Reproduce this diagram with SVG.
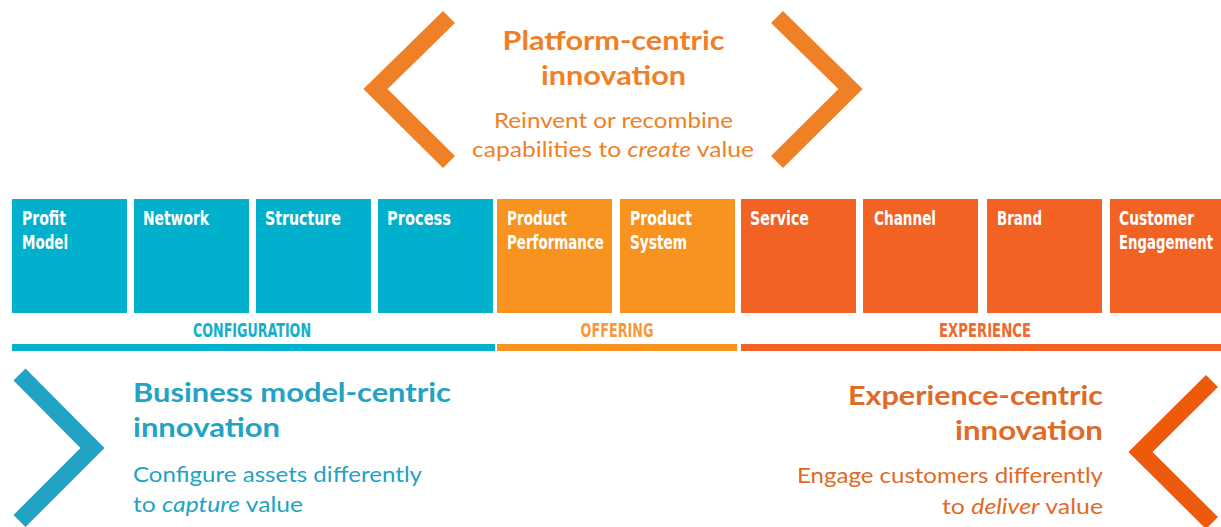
<svg xmlns="http://www.w3.org/2000/svg" width="1221" height="527" viewBox="0 0 1221 527">
<style>
.cfg{fill:#01B0CC}
.off{fill:#F7931E}
.exp{fill:#F26223}
.lbl{font-family:"DejaVu Sans Condensed","DejaVu Sans",sans-serif;font-weight:bold;font-size:19px;fill:#FFFFFF}
.bar{font-family:"DejaVu Sans Condensed","DejaVu Sans",sans-serif;font-weight:bold;font-size:20px}
.chev{fill:none;stroke-width:17;stroke-linecap:butt;stroke-linejoin:miter;stroke-miterlimit:10}
.h{font-family:Lato,"Open Sans",sans-serif;font-weight:bold;font-size:27px}
.s{font-family:Lato,"Open Sans",sans-serif;font-size:20.5px}
</style>

<!-- top chevrons and text -->
<g id="platform">
<polyline class="chev" stroke="#F08026" points="449,17 375.5,89 449,162"/>
<polyline class="chev" stroke="#F08026" points="777,17 850.5,89 777,162"/>
<g fill="#F08026" text-anchor="middle">
<text class="h" x="613.5" y="50" textLength="222" lengthAdjust="spacingAndGlyphs">Platform-centric</text>
<text class="h" x="613.5" y="85" textLength="145" lengthAdjust="spacingAndGlyphs">innovation</text>
<text class="s" x="613.5" y="128" textLength="239" lengthAdjust="spacingAndGlyphs">Reinvent or recombine</text>
<text class="s" x="613" y="157" textLength="282" lengthAdjust="spacingAndGlyphs">capabilities to <tspan font-style="italic">create</tspan> value</text>
</g>
</g>

<!-- building blocks -->
<g id="profit-model"><rect class="cfg" x="12" y="199" width="115" height="114"/>
<text class="lbl" x="22" y="225" textLength="44" lengthAdjust="spacingAndGlyphs">Profit</text>
<text class="lbl" x="22" y="249" textLength="46" lengthAdjust="spacingAndGlyphs">Model</text></g>
<g id="network"><rect class="cfg" x="134" y="199" width="115" height="114"/>
<text class="lbl" x="143" y="225" textLength="66" lengthAdjust="spacingAndGlyphs">Network</text></g>
<g id="structure"><rect class="cfg" x="256" y="199" width="115" height="114"/>
<text class="lbl" x="265" y="225" textLength="76" lengthAdjust="spacingAndGlyphs">Structure</text></g>
<g id="process"><rect class="cfg" x="378" y="199" width="115" height="114"/>
<text class="lbl" x="387" y="225" textLength="64" lengthAdjust="spacingAndGlyphs">Process</text></g>
<g id="product-performance"><rect class="off" x="497" y="199" width="115" height="114"/>
<text class="lbl" x="507" y="225" textLength="60" lengthAdjust="spacingAndGlyphs">Product</text>
<text class="lbl" x="507" y="249" textLength="97" lengthAdjust="spacingAndGlyphs">Performance</text></g>
<g id="product-system"><rect class="off" x="620" y="199" width="115" height="114"/>
<text class="lbl" x="630" y="225" textLength="62" lengthAdjust="spacingAndGlyphs">Product</text>
<text class="lbl" x="630" y="249" textLength="57" lengthAdjust="spacingAndGlyphs">System</text></g>
<g id="service"><rect class="exp" x="741" y="199" width="115" height="114"/>
<text class="lbl" x="750" y="225" textLength="59" lengthAdjust="spacingAndGlyphs">Service</text></g>
<g id="channel"><rect class="exp" x="863" y="199" width="115" height="114"/>
<text class="lbl" x="874" y="225" textLength="62" lengthAdjust="spacingAndGlyphs">Channel</text></g>
<g id="brand"><rect class="exp" x="987" y="199" width="115" height="114"/>
<text class="lbl" x="997" y="225" textLength="45" lengthAdjust="spacingAndGlyphs">Brand</text></g>
<g id="customer-engagement"><rect class="exp" x="1110" y="199" width="111" height="114"/>
<text class="lbl" transform="translate(1119,225) scale(0.8,1)" x="0" y="0" textLength="93.75" lengthAdjust="spacingAndGlyphs">Customer</text>
<text class="lbl" transform="translate(1119,249) scale(0.8,1)" x="0" y="0" textLength="117.5" lengthAdjust="spacingAndGlyphs">Engagement</text></g>

<!-- category bars -->
<g id="configuration">
<text class="bar" x="252" y="337" fill="#14AFCA" text-anchor="middle" textLength="118" lengthAdjust="spacingAndGlyphs">CONFIGURATION</text>
<rect class="cfg" x="12" y="344" width="483" height="7"/>
</g>
<g id="offering">
<text class="bar" x="617" y="337" fill="#F59A3A" text-anchor="middle" textLength="73" lengthAdjust="spacingAndGlyphs">OFFERING</text>
<rect class="off" x="497" y="344" width="240" height="7"/>
</g>
<g id="experience">
<text class="bar" x="985" y="337" fill="#F1692E" text-anchor="middle" textLength="92" lengthAdjust="spacingAndGlyphs">EXPERIENCE</text>
<rect class="exp" x="741" y="344" width="480" height="7"/>
</g>

<!-- bottom left -->
<g id="business-model">
<polyline class="chev" stroke="#22A3C4" points="19.5,374.5 92.5,448 19.5,521"/>
<g fill="#22A3C4">
<text class="h" x="133" y="402" textLength="318" lengthAdjust="spacingAndGlyphs">Business model-centric</text>
<text class="h" x="133" y="437" textLength="147" lengthAdjust="spacingAndGlyphs">innovation</text>
<text class="s" x="133" y="482" textLength="289" lengthAdjust="spacingAndGlyphs">Configure assets differently</text>
<text class="s" x="133" y="512" textLength="170" lengthAdjust="spacingAndGlyphs">to <tspan font-style="italic">capture</tspan> value</text>
</g>
</g>

<!-- bottom right -->
<g id="experience-centric">
<polyline class="chev" stroke="#EE5A0C" points="1212,381 1140.5,452 1212,523"/>
<g fill="#E06A26" text-anchor="end">
<text class="h" x="1103" y="405" textLength="255" lengthAdjust="spacingAndGlyphs">Experience-centric</text>
<text class="h" x="1103" y="440" textLength="148" lengthAdjust="spacingAndGlyphs">innovation</text>
<text class="s" x="1103" y="483" textLength="306" lengthAdjust="spacingAndGlyphs">Engage customers differently</text>
<text class="s" x="1103" y="514" textLength="161" lengthAdjust="spacingAndGlyphs">to <tspan font-style="italic">deliver</tspan> value</text>
</g>
</g>
</svg>
